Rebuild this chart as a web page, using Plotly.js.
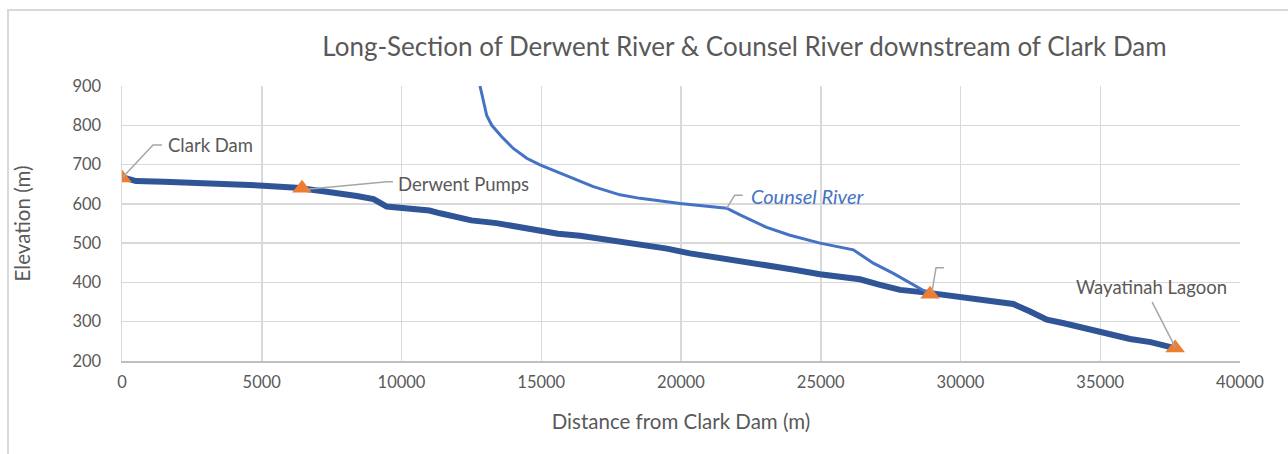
<!DOCTYPE html>
<html>
<head>
<meta charset="utf-8">
<script src="https://cdn.plot.ly/plotly-3.0.1.min.js"></script>
<style>
  html, body { margin: 0; padding: 0; background: #ffffff; }
  #wrap { position: relative; width: 1288px; height: 454px; overflow: hidden; }
  #chart { position: absolute; left: 0; top: 0; width: 1288px; height: 454px; }
  #frame { position: absolute; left: 7px; top: 9px; width: 1300px; height: 460px;
           border-left: 2px solid #d9d9d9; border-top: 2px solid #d9d9d9; pointer-events: none; }
</style>
</head>
<body>
<div id="wrap">
  <div id="chart"></div>
  <div id="frame"></div>
</div>
<script>
// Derwent River long-section (distance m, elevation m)
const derwentX = [0, 300, 500, 1500, 3000, 4000, 4900, 6250, 7000, 7200, 8400, 9000, 9470, 9950, 10500, 11000, 11380, 12000, 12210, 12500, 13400, 14200, 14950, 15600, 16390, 17500, 18100, 18770, 19500, 20320, 21500, 22350, 23070, 24000, 24970, 25800, 26400, 27120, 27840, 28790, 29300, 29980, 30800, 31300, 31890, 32490, 33090, 33700, 34640, 35300, 36070, 36800, 37500, 37700];
const derwentY = [668, 662, 658, 656, 653, 650, 647, 641, 636, 632, 620, 612, 593, 590, 588, 583, 576, 568, 562, 558, 551, 542, 530, 524, 519, 508, 503, 495, 486, 474, 462, 450, 445, 433, 421, 413, 408, 394, 381, 374, 369, 360, 352, 347, 345, 326, 305, 296, 280, 270, 256, 248, 236, 232];

// Counsel River long-section
const counselX = [12809, 12927, 13049, 13230, 13586, 14001, 14480, 14956, 15911, 16863, 17819, 18534, 19965, 21636, 22112, 23066, 23899, 24974, 26166, 26881, 27597, 28434, 28850, 28910];
const counselY = [900, 864, 825, 800, 771, 741, 716, 699, 671, 644, 623, 614, 601, 589, 572, 540, 520, 500, 483, 449, 423, 389, 372, 370];

// Key locations
const siteX = [0, 6440, 28910, 37680];
const siteY = [666, 640, 370, 233];
const siteNames = ['Clark Dam', 'Derwent Pumps', '', 'Wayatinah Lagoon'];

const counselLabel = 'Counsel River';
const counselLabelIndex = 13;

const titleText = 'Long-Section of Derwent River &amp; Counsel River downstream of Clark Dam';
const xTitle = 'Distance from Clark Dam (m)';
const yTitle = 'Elevation (m)';

const FONT = 'Lato, "Open Sans", sans-serif';
const GREY = '#595959';
const LEADER = '#a6a6a6';

const traces = [
  { x: derwentX, y: derwentY, type: 'scatter', mode: 'lines', name: 'Derwent River',
    line: { color: '#2F5597', width: 6 } },
  { x: counselX, y: counselY, type: 'scatter', mode: 'lines', name: 'Counsel River',
    line: { color: '#4472C4', width: 3 } },
  { x: siteX, y: siteY, type: 'scatter', mode: 'markers', name: 'Sites',
    marker: { symbol: 'triangle-up', size: 17, color: '#ED7D31' } }
];

// leader line offsets (pixels, relative to the labelled point) and label offsets
const leaderPaths = ['M1,1 L31,33 L40,33', 'M5,-1 L85,6.5 L91,6.5', 'M2,2.5 L6,26.5 L14,26.5', 'M0,1 L-23,46'];
const labelShift = [[88, 33], [161, 4], [0, 0], [-24, 61]];

const shapes = [];
const annotations = [];
siteX.forEach((sx, i) => {
  shapes.push({ type: 'path', xref: 'x', yref: 'y', xsizemode: 'pixel', ysizemode: 'pixel',
    xanchor: sx, yanchor: siteY[i], path: leaderPaths[i], line: { color: LEADER, width: 1.5 } });
  if (siteNames[i]) {
    annotations.push({ x: sx, y: siteY[i], xref: 'x', yref: 'y', text: siteNames[i], showarrow: false,
      xanchor: 'center', yanchor: 'middle', xshift: labelShift[i][0], yshift: labelShift[i][1],
      font: { family: FONT, size: 18.5, color: GREY } });
  }
});
shapes.push({ type: 'path', xref: 'x', yref: 'y', xsizemode: 'pixel', ysizemode: 'pixel',
  xanchor: counselX[counselLabelIndex], yanchor: counselY[counselLabelIndex],
  path: 'M0,0 L8,13 L16,13', line: { color: LEADER, width: 1.5 } });
annotations.push({ x: counselX[counselLabelIndex], y: counselY[counselLabelIndex], xref: 'x', yref: 'y',
  text: '<i>' + counselLabel + '</i>', showarrow: false, xanchor: 'center', yanchor: 'middle',
  xshift: 81, yshift: 12, font: { family: FONT, size: 20, color: '#4472C4' } });

const layout = {
  width: 1288, height: 454,
  margin: { l: 122, r: 48, t: 86, b: 93 },
  paper_bgcolor: '#ffffff', plot_bgcolor: '#ffffff',
  showlegend: false,
  title: { text: titleText, x: 0.578, xref: 'container', xanchor: 'center',
    y: 0.8965, yref: 'container', yanchor: 'middle',
    font: { family: FONT, size: 26, color: GREY } },
  xaxis: { range: [0, 40000], dtick: 5000, tick0: 0, tickformat: 'd', showgrid: true, gridcolor: '#d9d9d9', gridwidth: 1.5,
    zeroline: false, showline: true, linecolor: '#bfbfbf', linewidth: 2, ticks: '',
    tickfont: { family: FONT, size: 16.5, color: GREY }, ticklabelstandoff: 5,
    title: { text: xTitle, standoff: 24, font: { family: FONT, size: 20.5, color: GREY } } },
  yaxis: { range: [200, 900], dtick: 100, showgrid: true, gridcolor: '#d9d9d9', gridwidth: 1.5,
    zeroline: false, showline: true, linecolor: '#d9d9d9', linewidth: 1.5, ticks: '',
    tickfont: { family: FONT, size: 16.5, color: GREY }, ticklabelstandoff: 16,
    title: { text: yTitle, standoff: 36, font: { family: FONT, size: 20.5, color: GREY } } },
  shapes: shapes,
  annotations: annotations
};

Plotly.newPlot('chart', traces, layout, { staticPlot: true, displayModeBar: false });
</script>
</body>
</html>
